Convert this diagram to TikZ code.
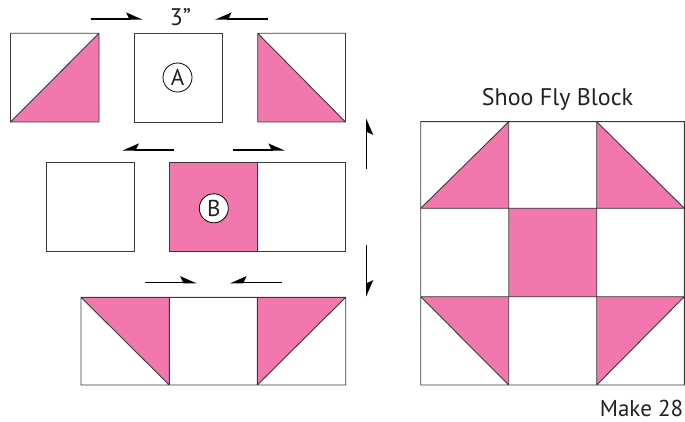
\documentclass[tikz,border=0pt]{standalone}
\usepackage{fontspec}
\setmainfont{PT Sans}
\usetikzlibrary{arrows.meta}
\definecolor{qpink}{HTML}{F177AD}
\definecolor{qline}{HTML}{3A3A3A}
\definecolor{qtext}{HTML}{222222}
\begin{document}
\begin{tikzpicture}[x=1pt,y=-1pt,
  edge/.style={draw=qline,line width=0.9pt},
  tri/.style={fill=qpink},
  harp/.style={-{Stealth[harpoon,length=15pt,width=13pt,inset=3pt]}, line width=1.3pt},
  harpsw/.style={-{Stealth[harpoon,swap,length=15pt,width=13pt,inset=3pt]}, line width=1.3pt},
  lbl/.style={font=\fontsize{23}{26}\selectfont, text=qtext, inner sep=0pt},
  badge/.style={circle,draw=black,fill=white,line width=0.8pt,minimum size=29pt,inner sep=0pt,text=qtext,font=\fontsize{23}{25}\selectfont}
]
\useasboundingbox (0,0) rectangle (685,422);

% ---- Row 1 ----
\fill[tri] (99,33.3) -- (99,122) -- (10.5,122) -- cycle;
\draw[edge] (10.5,33.3) rectangle (99,122) (10.5,122) -- (99,33.3);
\draw[edge] (134.3,33.3) rectangle (222.3,122);
\fill[tri] (257.7,33.3) -- (345.5,122) -- (257.7,122) -- cycle;
\draw[edge] (257.7,33.3) rectangle (345.5,122) (257.7,33.3) -- (345.5,122);
\node[badge] (A) at (177.5,77.5) {A};

% ---- Row 2 ----
\draw[edge] (46.7,162.7) rectangle (134.7,251);
\fill[tri] (169.3,162.7) rectangle (257.5,251);
\draw[edge] (169.3,162.7) rectangle (345.7,251) (257.5,162.7) -- (257.5,251);
\node[badge] (B) at (213.8,208.3) {B};

% ---- Row 3 ----
\fill[tri] (81,297.3) -- (169.3,297.3) -- (169.3,385) -- cycle;
\fill[tri] (257.3,297.3) -- (345.7,297.3) -- (257.3,385) -- cycle;
\draw[edge] (81,297.3) rectangle (345.7,385)
  (169.3,297.3) -- (169.3,385) (257.3,297.3) -- (257.3,385)
  (81,297.3) -- (169.3,385) (345.7,297.3) -- (257.3,385);

% ---- Shoo Fly block ----
\fill[tri] (508.7,121.7) -- (508.7,208.3) -- (420.7,208.3) -- cycle;
\fill[tri] (596.7,121.7) -- (684.3,208.3) -- (596.7,208.3) -- cycle;
\fill[tri] (508.7,208.3) rectangle (596.7,296.7);
\fill[tri] (420.7,296.7) -- (508.7,296.7) -- (508.7,385) -- cycle;
\fill[tri] (596.7,296.7) -- (684.3,296.7) -- (596.7,385) -- cycle;
\draw[edge] (420.7,121.7) rectangle (684.3,385)
  (508.7,121.7) -- (508.7,385) (596.7,121.7) -- (596.7,385)
  (420.7,208.3) -- (684.3,208.3) (420.7,296.7) -- (684.3,296.7)
  (420.7,208.3) -- (508.7,121.7) (596.7,121.7) -- (684.3,208.3)
  (420.7,296.7) -- (508.7,385) (684.3,296.7) -- (596.7,385);

% ---- Labels ----
\node[lbl,anchor=base,font=\fontsize{24}{26}\selectfont] (size) at (180.5,26) {3”};
\node[lbl,anchor=base,font=\fontsize{24}{26}\selectfont] (title) at (557.5,106) {Shoo Fly Block};
\node[lbl,anchor=base] (make) at (641.5,416) {Make 28};

% ---- Arrows ----
\coordinate (r1a) at (90.7,19);   \coordinate (r1b) at (142.7,19);
\coordinate (r1c) at (267.7,19);  \coordinate (r1d) at (215,19);
\coordinate (r2a) at (174,150);   \coordinate (r2b) at (122.3,150);
\coordinate (r2c) at (233.3,150); \coordinate (r2d) at (285,150);
\coordinate (r3a) at (145,282.7); \coordinate (r3b) at (196.7,282.7);
\coordinate (r3c) at (281.7,282.7); \coordinate (r3d) at (230,282.7);
\coordinate (vua) at (366.7,169.3); \coordinate (vub) at (366.7,118.3);
\coordinate (vda) at (366.7,245);   \coordinate (vdb) at (366.7,296.7);
\draw[harp] (r1a) -- (r1b);
\draw[harpsw] (r1c) -- (r1d);
\draw[harpsw] (r2a) -- (r2b);
\draw[harp] (r2c) -- (r2d);
\draw[harp] (r3a) -- (r3b);
\draw[harpsw] (r3c) -- (r3d);
\draw[harpsw] (vua) -- (vub);
\draw[harp] (vda) -- (vdb);
\end{tikzpicture}
\end{document}
